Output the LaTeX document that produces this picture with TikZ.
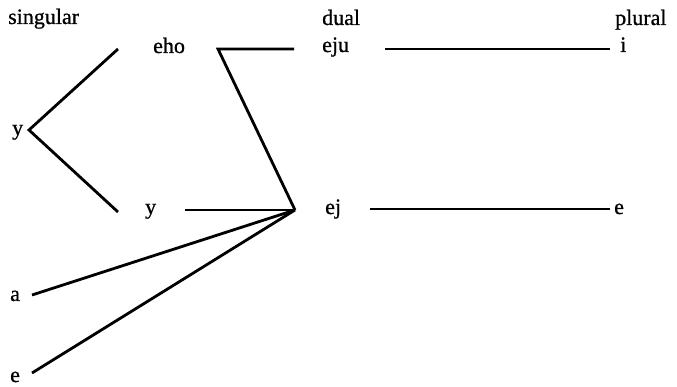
\documentclass[tikz,border=0pt]{standalone}
\usepackage{fontspec}
\setmainfont[FakeBold=0.8]{Liberation Serif}
\begin{document}
\begin{tikzpicture}[x=1pt,y=-1pt,
  lbl/.style={anchor=base west,inner sep=0pt,font=\fontsize{22}{24}\selectfont},
  link/.style={line width=2.8pt,line join=miter}]
\useasboundingbox (0,0) rectangle (677,387);
% labels
\node[lbl] (sing) at (8,24) {singular};
\node[lbl] (dual) at (322,25) {dual};
\node[lbl] (plur) at (615,25) {plural};
\node[lbl] (eho) at (153,53) {eho};
\node[lbl] (eju) at (322,52) {eju};
\node[lbl] (pi) at (620,52) {i};
\node[lbl] (yl) at (12,135) {y};
\node[lbl] (ym) at (145,214) {y};
\node[lbl] (ej) at (325,214) {ej};
\node[lbl] (pe) at (614,214) {e};
\node[lbl] (sa) at (10,301) {a};
\node[lbl] (se) at (10,382) {e};
% connector points
\coordinate (v1) at (29,130);
\coordinate (v1a) at (118,49);
\coordinate (v1b) at (118,212);
\coordinate (v2) at (218,49);
\coordinate (v2a) at (294,49);
\coordinate (hub) at (295,210);
\coordinate (ymr) at (185,210);
\coordinate (ar) at (32,295);
\coordinate (er) at (32,373);
\coordinate (ejur) at (385,49);
\coordinate (pil) at (610,49);
\coordinate (ejr) at (370,209);
\coordinate (pel) at (610,209);
% connectors
\draw[link] (v1a) -- (v1) -- (v1b);
\draw[link] (v2a) -- (v2) -- (hub);
\draw[link] (ymr) -- (hub);
\draw[link] (ar) -- (hub);
\draw[link] (er) -- (hub);
\draw[link] (ejur) -- (pil);
\draw[link] (ejr) -- (pel);
\end{tikzpicture}
\end{document}
